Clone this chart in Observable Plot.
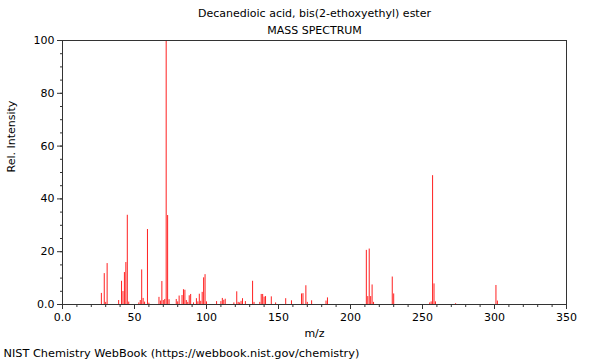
<!DOCTYPE html>
<html>
<head>
<meta charset="utf-8">
<script src="https://cdn.jsdelivr.net/npm/d3@7"></script>
<script src="https://cdn.jsdelivr.net/npm/@observablehq/plot@0.6"></script>
<style>
  html, body { margin: 0; padding: 0; background: #fff; }
  svg { display: block; }
</style>
</head>
<body>
<div id="chart"></div>
<script>
const title = "Decanedioic acid, bis(2-ethoxyethyl) ester";
const subtitle = "MASS SPECTRUM";
const xLabel = "m/z";
const yLabel = "Rel. Intensity";
const caption = "NIST Chemistry WebBook (https://webbook.nist.gov/chemistry)";

const mz = [27, 29, 30, 31, 39, 41, 42, 43, 44, 45, 46, 53, 54, 55, 56, 57, 59, 60,
  67, 68, 69, 70, 71, 72, 73, 74, 79, 80, 81, 83, 84, 85, 86, 87, 88, 89,
  91, 93, 94, 95, 96, 97, 98, 99, 100, 107, 110, 111, 112, 113, 119, 121, 122, 123,
  124, 125, 127, 132, 133, 137, 138, 139, 140, 141, 145, 148, 155, 159, 166, 167,
  169, 170, 173, 183, 184, 211, 212, 213, 214, 215, 216, 229, 230, 255, 256, 257,
  258, 259, 273, 301, 302];
const intensity = [4.2, 11.7, 0.8, 15.5, 1.5, 8.8, 4.9, 12.1, 15.9, 33.8, 0.9, 0.6, 1.5, 13.1, 2.3, 0.9, 28.4, 0.5,
  2.7, 1.3, 8.7, 1.5, 1.9, 100, 33.7, 1.8, 1.9, 1.0, 3.2, 3.4, 5.6, 5.4, 1.5, 0.8, 3.3, 3.8,
  0.6, 2.2, 1.0, 3.9, 1.2, 4.6, 10.1, 11.3, 1.0, 1.1, 1.1, 2.3, 1.6, 2.0, 0.6, 4.8, 0.8, 0.6,
  1.2, 2.2, 1.1, 8.8, 0.8, 0.8, 3.8, 3.8, 2.8, 3.0, 2.9, 0.6, 2.2, 1.4, 4.0, 4.1,
  7.1, 0.8, 1.4, 1.3, 2.5, 20.5, 3.0, 21.0, 3.0, 7.4, 0.8, 10.4, 4.0, 0.6, 1.0, 48.8,
  7.8, 1.0, 0.3, 7.2, 1.3];

const xMajor = [0, 50, 100, 150, 200, 250, 300, 350];
const xMinor = d3.range(0, 351, 10);
const yMajor = [0, 20, 40, 60, 80, 100];
const yMinor = d3.range(0, 101, 5);

const peaks = mz.map((m, i) => ({mz: m, intensity: intensity[i]}));
const fmt = d => d === 0 ? "0.0" : String(d);
const axisColor = "#333";

const chart = Plot.plot({
  width: 600,
  height: 360,
  marginLeft: 62,
  marginRight: 34,
  marginTop: 40,
  marginBottom: 56,
  style: {fontFamily: "DejaVu Sans", fontSize: "11px", background: "#fff", color: "#000"},
  x: {domain: [0, 350], axis: null},
  y: {domain: [0, 100], axis: null},
  marks: [
    Plot.ruleX(peaks, {x: "mz", y1: 0, y2: "intensity", stroke: "#ff2020", strokeWidth: 1}),
    Plot.frame({stroke: axisColor}),
    Plot.axisX({ticks: xMinor, tickSize: 3, tickFormat: () => "", label: null, stroke: axisColor}),
    Plot.axisX({ticks: xMajor, tickSize: 5, tickPadding: 4, tickFormat: fmt, label: null, stroke: axisColor, fill: "#000", fontSize: 11}),
    Plot.axisY({ticks: yMinor, tickSize: 2, tickFormat: () => "", label: null, stroke: axisColor}),
    Plot.axisY({ticks: yMajor, tickSize: 5, tickPadding: 3, tickFormat: fmt, label: null, stroke: axisColor, fill: "#000", fontSize: 11}),
    Plot.text([title], {frameAnchor: "top", lineAnchor: "middle", dy: -27, text: d => d, fontSize: 11, fill: "#000"}),
    Plot.text([subtitle], {frameAnchor: "top", lineAnchor: "middle", dy: -10, text: d => d, fontSize: 11, fill: "#000"}),
    Plot.text([xLabel], {frameAnchor: "bottom", lineAnchor: "middle", dy: 29, text: d => d, fontSize: 11, fill: "#000"}),
    Plot.text([yLabel], {frameAnchor: "left", dx: -51, rotate: -90, text: d => d, fontSize: 11, fill: "#000"}),
    Plot.text([caption], {frameAnchor: "bottom-left", lineAnchor: "middle", dx: -59, dy: 49, textAnchor: "start", text: d => d, fontSize: 11.3, fill: "#000"})
  ]
});
document.getElementById("chart").appendChild(chart);
</script>
</body>
</html>
